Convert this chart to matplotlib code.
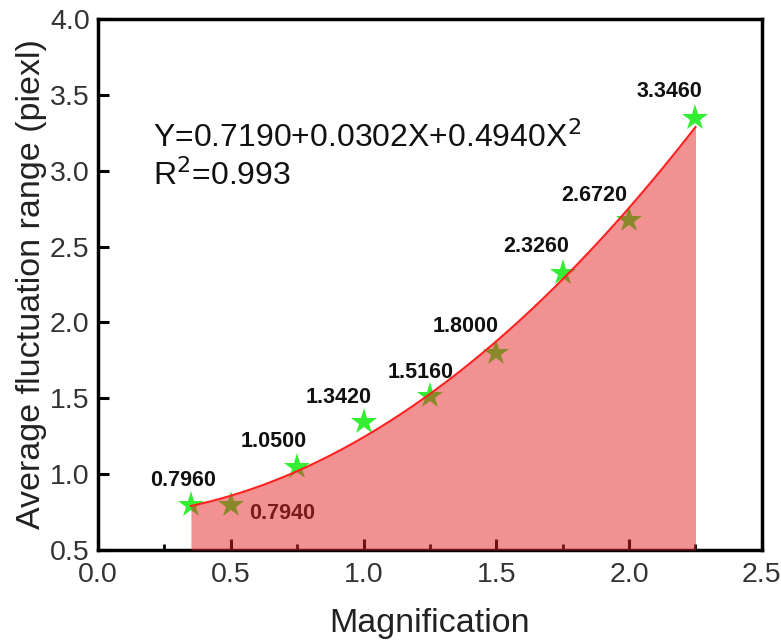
import numpy as np
import matplotlib.pyplot as plt
from matplotlib.ticker import MultipleLocator

# measured data
mag = [0.35, 0.5, 0.75, 1.0, 1.25, 1.5, 1.75, 2.0, 2.25]
fluct = [0.796, 0.794, 1.050, 1.342, 1.516, 1.800, 2.326, 2.672, 3.346]
labels = ['0.7960', '0.7940', '1.0500', '1.3420', '1.5160', '1.8000', '2.3260', '2.6720', '3.3460']
# label offsets (points)
offsets = [(-6, 18), (37, -6), (-17, 18), (-18, 18), (-7, 17), (-22, 19), (-19, 19), (-25, 18), (-19, 19)]

# quadratic fit coefficients
c0, c1, c2 = 0.7190, 0.0302, 0.4940

plt.rcParams['font.family'] = ['Liberation Sans', 'DejaVu Sans']

fig = plt.figure(figsize=(7.81, 6.44), dpi=100)
ax = fig.add_axes([0.1255, 0.146, 0.850, 0.8245])

ax.plot(mag, fluct, '*', color='#33ee33', markersize=20, markeredgewidth=0, zorder=2)
for x, y, t, off in zip(mag, fluct, labels, offsets):
    ax.annotate(t, (x, y), xytext=off, textcoords='offset points', ha='center', va='center',
                fontsize=15.5, fontweight='bold', color='#111111', zorder=2)

xf = np.linspace(mag[0], mag[-1], 300)
yf = c0 + c1 * xf + c2 * xf**2
ax.fill_between(xf, 0.5, yf, color='#e42424', alpha=0.5, linewidth=0, zorder=3)
ax.plot(xf, yf, color='#ff2020', linewidth=1.5, zorder=4)

ax.text(0.083, 0.759, 'Y=0.7190+0.0302X+0.4940X$^2$', transform=ax.transAxes,
        fontsize=23, va='baseline', ha='left', color='#111111')
ax.text(0.083, 0.687, 'R$^2$=0.993', transform=ax.transAxes,
        fontsize=23, va='baseline', ha='left', color='#111111')

ax.set_xlim(0, 2.5)
ax.set_ylim(0.5, 4.0)
ax.xaxis.set_major_locator(MultipleLocator(0.5))
ax.xaxis.set_minor_locator(MultipleLocator(0.25))
ax.yaxis.set_major_locator(MultipleLocator(0.5))
ax.tick_params(which='major', direction='in', length=8, width=2.2, labelsize=20.5, pad=6,
               labelcolor='#333333')
ax.tick_params(axis='x', which='major', pad=9)
ax.tick_params(which='minor', direction='in', length=4, width=2)
ax.tick_params(axis='y', which='minor', left=False)

for s in ax.spines.values():
    s.set_linewidth(2.5)

ax.set_xlabel('Magnification', fontsize=24.5, labelpad=14, color='#222222')
ax.set_ylabel('Average fluctuation range (piexl)', fontsize=24.5, labelpad=2, color='#222222')

plt.savefig('out.png', dpi=100)
